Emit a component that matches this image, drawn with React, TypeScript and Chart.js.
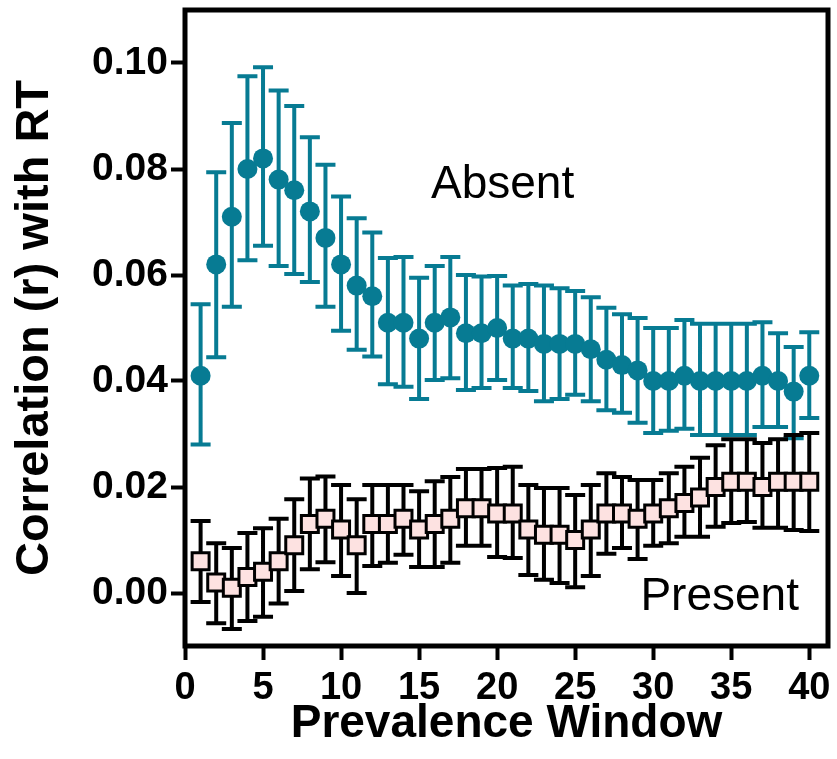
import { useEffect, useRef } from "react";
import { Chart, registerables } from "chart.js";

Chart.register(...registerables);

const windows = [1, 2, 3, 4, 5, 6, 7, 8, 9, 10, 11, 12, 13, 14, 15, 16, 17, 18, 19, 20, 21, 22, 23, 24, 25, 26, 27, 28, 29, 30, 31, 32, 33, 34, 35, 36, 37, 38, 39, 40];

const absentMean = [0.041, 0.062, 0.071, 0.080, 0.082, 0.078, 0.076, 0.072, 0.067, 0.062, 0.058, 0.056, 0.051, 0.051, 0.048, 0.051, 0.052, 0.049, 0.049, 0.050, 0.048, 0.048, 0.047, 0.047, 0.047, 0.046, 0.044, 0.043, 0.042, 0.040, 0.040, 0.041, 0.040, 0.040, 0.040, 0.040, 0.041, 0.040, 0.038, 0.041];
const absentLow = [0.028, 0.0445, 0.054, 0.0628, 0.0655, 0.0617, 0.0602, 0.0587, 0.054, 0.0495, 0.0459, 0.0446, 0.0394, 0.0389, 0.0366, 0.0402, 0.0405, 0.0383, 0.0387, 0.0402, 0.0387, 0.0381, 0.0362, 0.0366, 0.0374, 0.0362, 0.0345, 0.034, 0.0321, 0.0302, 0.0306, 0.031, 0.0298, 0.0298, 0.0298, 0.0298, 0.0313, 0.0313, 0.0292, 0.033];
const absentHigh = [0.0545, 0.0794, 0.0887, 0.0975, 0.0992, 0.0948, 0.0919, 0.086, 0.0808, 0.0748, 0.0707, 0.068, 0.0632, 0.0634, 0.0595, 0.0617, 0.0634, 0.060, 0.0597, 0.0598, 0.058, 0.0583, 0.058, 0.0575, 0.057, 0.0558, 0.0538, 0.0526, 0.0519, 0.050, 0.050, 0.0515, 0.0508, 0.0508, 0.0508, 0.0508, 0.0511, 0.049, 0.0464, 0.0492];

const presentMean = [0.006, 0.002, 0.001, 0.003, 0.004, 0.006, 0.009, 0.013, 0.014, 0.012, 0.009, 0.013, 0.013, 0.014, 0.012, 0.013, 0.014, 0.016, 0.016, 0.015, 0.015, 0.012, 0.011, 0.011, 0.010, 0.012, 0.015, 0.015, 0.014, 0.015, 0.016, 0.017, 0.018, 0.020, 0.021, 0.021, 0.020, 0.021, 0.021, 0.021];
const presentLow = [-0.0017, -0.0057, -0.0068, -0.0053, -0.0045, -0.002, 0.0004, 0.0045, 0.0058, 0.0032, 0.0, 0.0051, 0.0057, 0.0072, 0.0049, 0.0049, 0.0057, 0.0089, 0.0089, 0.0068, 0.0066, 0.0034, 0.0025, 0.0019, 0.0011, 0.0032, 0.0074, 0.0085, 0.0064, 0.0089, 0.0094, 0.0106, 0.0106, 0.0125, 0.0132, 0.0134, 0.0123, 0.0123, 0.0119, 0.0117];
const presentHigh = [0.0136, 0.0094, 0.0085, 0.0113, 0.0122, 0.014, 0.0177, 0.0216, 0.022, 0.0204, 0.0177, 0.0204, 0.0204, 0.0204, 0.0192, 0.0211, 0.0219, 0.0234, 0.0234, 0.0236, 0.0238, 0.0204, 0.0198, 0.0198, 0.0185, 0.0204, 0.0226, 0.0219, 0.0213, 0.0213, 0.0226, 0.0238, 0.0255, 0.0279, 0.029, 0.029, 0.0283, 0.029, 0.0298, 0.0302];

const xTickValues = [0, 5, 10, 15, 20, 25, 30, 35, 40];
const yTickValues = [0, 0.02, 0.04, 0.06, 0.08, 0.1];

const seriesLabels = ["Absent", "Present"];
const labelPositions = [
  { x: 20.35, y: 0.0745 },
  { x: 34.26, y: -0.0032 },
];

const TEAL = "#077b93";
const PINK = "#fde2e1";
const FONT = "'Liberation Sans', Arial, Helvetica, sans-serif";

const errorBarPlugin = {
  id: "errorBars",
  beforeDatasetsDraw(chart: any) {
    const { ctx, scales } = chart;
    const xs = scales.x;
    const ys = scales.y;
    const groups = [
      { low: absentLow, high: absentHigh, color: TEAL },
      { low: presentLow, high: presentHigh, color: "#000000" },
    ];
    ctx.save();
    ctx.lineCap = "butt";
    ctx.lineWidth = 4;
    for (const g of groups) {
      ctx.strokeStyle = g.color;
      ctx.beginPath();
      for (let i = 0; i < windows.length; i++) {
        const px = xs.getPixelForValue(windows[i]);
        const yl = ys.getPixelForValue(g.low[i]);
        const yh = ys.getPixelForValue(g.high[i]);
        ctx.moveTo(px, yl);
        ctx.lineTo(px, yh);
        ctx.moveTo(px - 10, yl);
        ctx.lineTo(px + 10, yl);
        ctx.moveTo(px - 10, yh);
        ctx.lineTo(px + 10, yh);
      }
      ctx.stroke();
    }
    ctx.restore();
  },
  afterDraw(chart: any) {
    const { ctx, chartArea, scales } = chart;
    ctx.save();
    ctx.strokeStyle = "#000";
    ctx.lineWidth = 5;
    ctx.strokeRect(chartArea.left, chartArea.top, chartArea.right - chartArea.left, chartArea.bottom - chartArea.top);
    ctx.fillStyle = "#000";
    ctx.font = `46px ${FONT}`;
    ctx.textAlign = "center";
    ctx.textBaseline = "alphabetic";
    for (let i = 0; i < seriesLabels.length; i++) {
      ctx.fillText(
        seriesLabels[i],
        scales.x.getPixelForValue(labelPositions[i].x),
        scales.y.getPixelForValue(labelPositions[i].y)
      );
    }
    ctx.restore();
  },
};

export default function App() {
  const ref = useRef<HTMLCanvasElement>(null);
  useEffect(() => {
    if (!ref.current) return;
    const chart = new Chart(ref.current, {
      type: "scatter",
      data: {
        datasets: [
          {
            label: seriesLabels[0],
            data: windows.map((w, i) => ({ x: w, y: absentMean[i] })),
            pointStyle: "circle",
            pointRadius: 10,
            backgroundColor: TEAL,
            borderColor: TEAL,
            borderWidth: 0,
            order: 2,
          },
          {
            label: seriesLabels[1],
            data: windows.map((w, i) => ({ x: w, y: presentMean[i] })),
            pointStyle: "rect",
            pointRadius: 12,
            backgroundColor: PINK,
            borderColor: "#000",
            borderWidth: 3,
            order: 1,
          },
        ],
      },
      options: {
        responsive: false,
        animation: false,
        devicePixelRatio: 1,
        layout: { autoPadding: false, padding: { left: 0, top: 10, right: 9, bottom: 0 } },
        plugins: {
          legend: { display: false },
          tooltip: { enabled: false },
        },
        scales: {
          x: {
            type: "linear",
            min: 0,
            max: 41.2,
            afterBuildTicks: (s: any) => {
              s.ticks = xTickValues.map((v) => ({ value: v }));
            },
            afterFit: (s: any) => {
              s.height = 113;
              s.paddingLeft = 0;
              s.paddingRight = 0;
            },
            border: { display: false },
            grid: {
              drawOnChartArea: false,
              drawTicks: true,
              tickLength: 14,
              tickWidth: 4,
              tickColor: "#000",
            },
            ticks: {
              color: "#000",
              font: { family: FONT, size: 38, weight: "bold" },
              padding: 6,
              maxRotation: 0,
              autoSkip: false,
              callback: (v: any) => String(v),
            },
            title: {
              display: true,
              text: "Prevalence Window",
              color: "#000",
              font: { family: FONT, size: 46, weight: "bold" },
              padding: { top: 0, bottom: 7 },
            },
          },
          y: {
            type: "linear",
            min: -0.01,
            max: 0.11,
            afterBuildTicks: (s: any) => {
              s.ticks = yTickValues.map((v) => ({ value: v }));
            },
            afterFit: (s: any) => {
              s.width = 185;
              s.paddingTop = 0;
              s.paddingBottom = 0;
            },
            border: { display: false },
            grid: {
              drawOnChartArea: false,
              drawTicks: true,
              tickLength: 14,
              tickWidth: 4,
              tickColor: "#000",
            },
            ticks: {
              color: "#000",
              font: { family: FONT, size: 39, weight: "bold" },
              padding: 3,
              autoSkip: false,
              callback: (v: any) => Number(v).toFixed(2),
            },
            title: {
              display: true,
              text: "Correlation (r) with RT",
              color: "#000",
              font: { family: FONT, size: 47, weight: "bold" },
              padding: { top: 7, bottom: 0 },
            },
          },
        },
      },
      plugins: [errorBarPlugin],
    });
    return () => chart.destroy();
  }, []);
  return (
    <div style={{ position: "absolute", left: 0, top: 0, width: 837, height: 759, background: "#fff" }}>
      <canvas ref={ref} width={837} height={759} style={{ display: "block" }} />
    </div>
  );
}
